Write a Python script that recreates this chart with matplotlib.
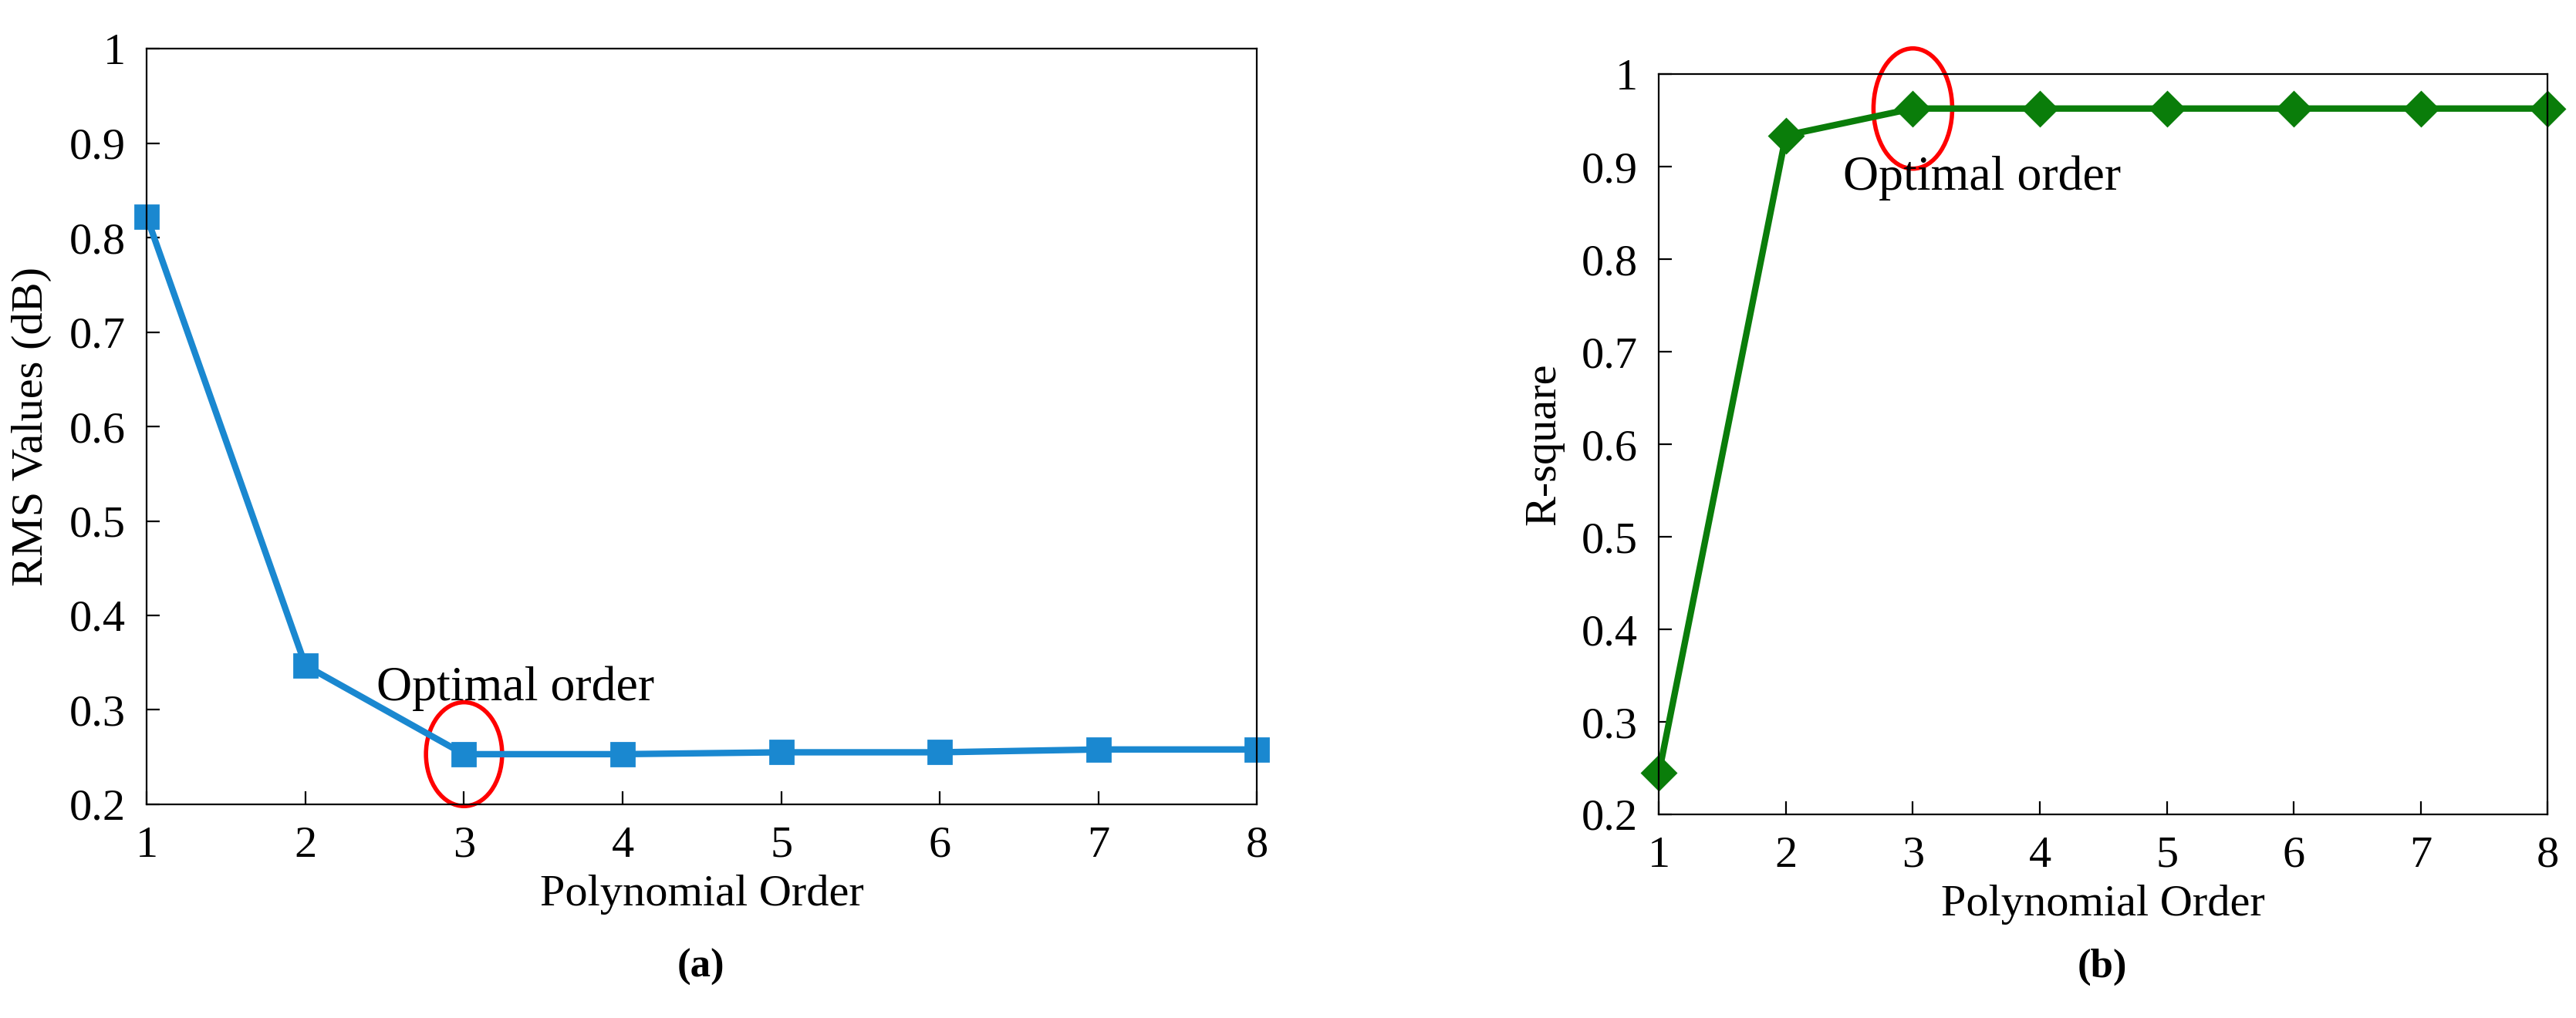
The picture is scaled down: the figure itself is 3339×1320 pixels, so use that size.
import matplotlib
matplotlib.use("Agg")
import matplotlib.pyplot as plt
from matplotlib.patches import Ellipse

orders = [1, 2, 3, 4, 5, 6, 7, 8]
rms_values = [0.822, 0.347, 0.253, 0.253, 0.255, 0.255, 0.258, 0.258]
r_square = [0.245, 0.934, 0.963, 0.963, 0.963, 0.963, 0.963, 0.963]
yticks = [0.2, 0.3, 0.4, 0.5, 0.6, 0.7, 0.8, 0.9, 1]
ytick_labels = ["0.2", "0.3", "0.4", "0.5", "0.6", "0.7", "0.8", "0.9", "1"]

plt.rcParams["font.family"] = ["Liberation Serif", "DejaVu Serif"]
plt.rcParams["font.size"] = 21

fig = plt.figure(figsize=(16.695, 6.6), dpi=200)
ax1 = fig.add_axes([0.057, 0.21, 0.431, 0.742])
ax2 = fig.add_axes([0.644, 0.20, 0.345, 0.727])


def style(ax, ylabel):
    ax.set_xlim(1, 8)
    ax.set_ylim(0.2, 1)
    ax.set_xticks(orders)
    ax.set_yticks(yticks)
    ax.set_yticklabels(ytick_labels)
    ax.tick_params(direction="in", length=6, pad=10, top=False, right=False)
    ax.set_xlabel("Polynomial Order", labelpad=4)
    ax.set_ylabel(ylabel, labelpad=8)


ax1.plot(orders, rms_values, "-s", color="#1a88d0", lw=3, markersize=11, clip_on=False)
style(ax1, "RMS Values (dB)")
ax1.add_patch(Ellipse((3, 0.253), 0.48, 0.11, fill=False, ec="red", lw=2, clip_on=False))
ax1.text(2.45, 0.31, "Optimal order", fontsize=23)

ax2.plot(orders, r_square, "-D", color="#0a7d0a", lw=3, markersize=11, clip_on=False)
style(ax2, "R-square")
ax2.add_patch(Ellipse((3, 0.963), 0.62, 0.13, fill=False, ec="red", lw=2, clip_on=False))
ax2.text(2.45, 0.875, "Optimal order", fontsize=23)

fig.text(0.272, 0.04, "(a)", ha="center", fontweight="bold", fontsize=19)
fig.text(0.816, 0.04, "(b)", ha="center", fontweight="bold", fontsize=19)

fig.savefig("out.png", dpi=200)
